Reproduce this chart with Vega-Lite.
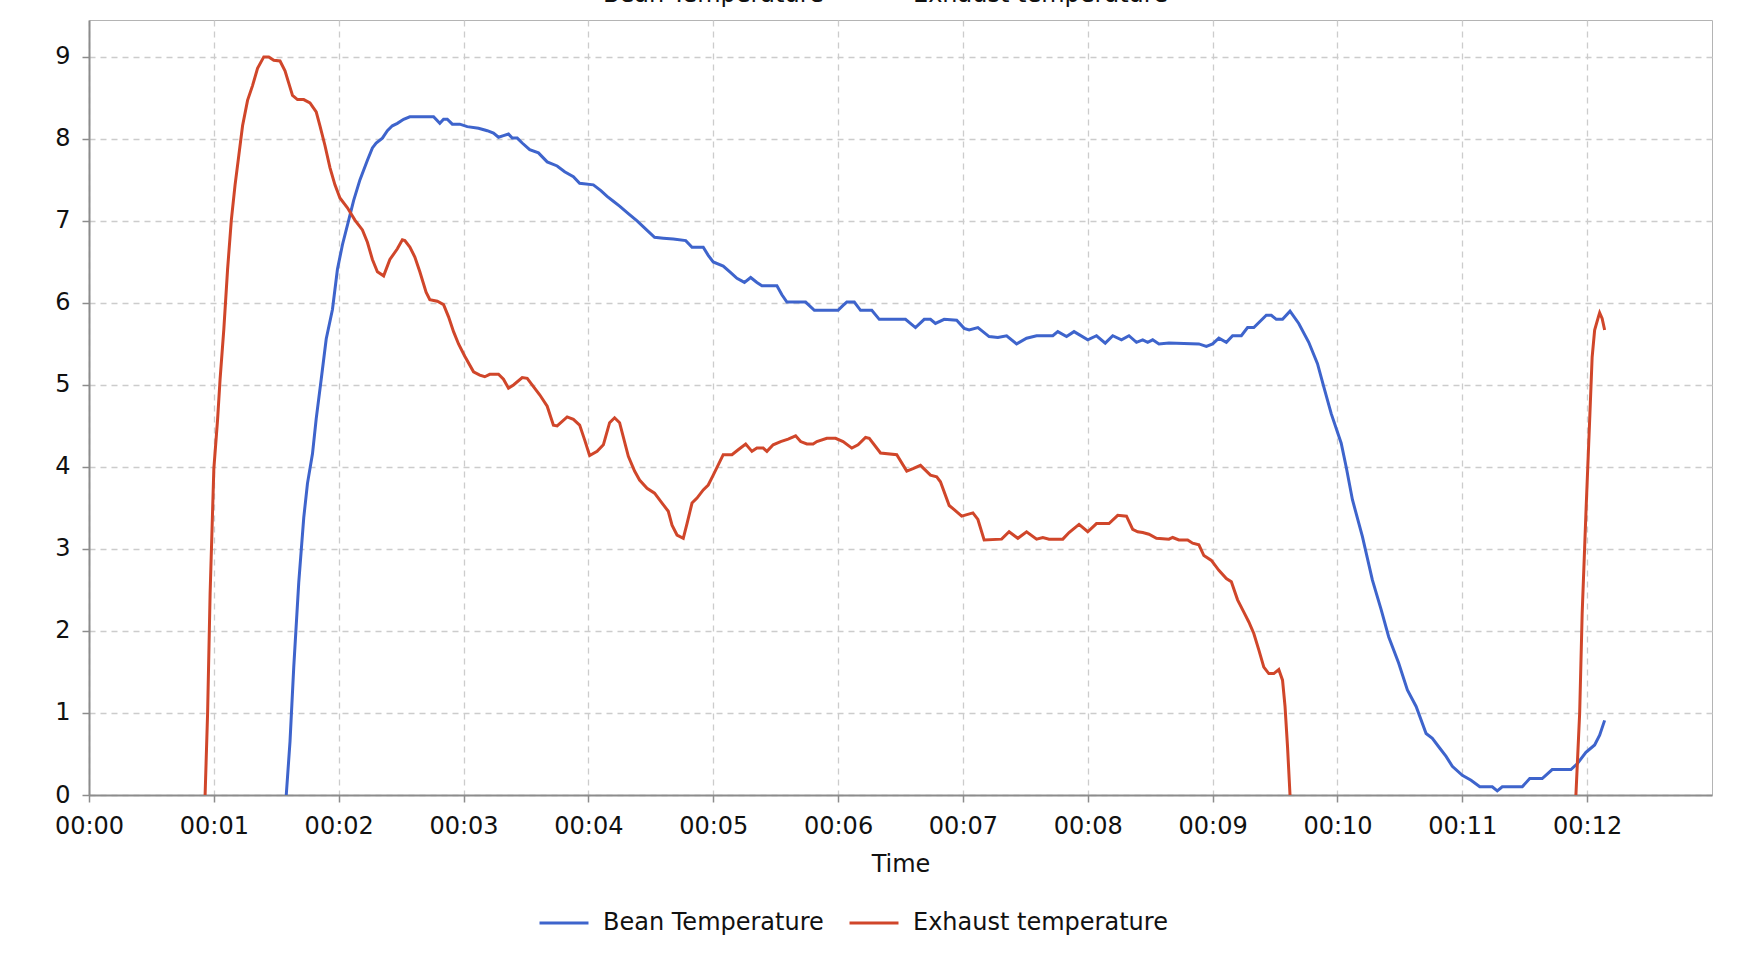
{
  "$schema": "https://vega.github.io/schema/vega-lite/v6.json",
  "width": 1623,
  "height": 775,
  "autosize": {"type": "none"},
  "padding": {"left": 89, "top": 20, "right": 44, "bottom": 165},
  "background": "white",
  "data": {
    "values": [
      {"t": 1.58, "v": 0, "s": "Bean Temperature", "seg": 1},
      {"t": 1.61, "v": 0.65, "s": "Bean Temperature", "seg": 1},
      {"t": 1.64, "v": 1.56, "s": "Bean Temperature", "seg": 1},
      {"t": 1.68, "v": 2.59, "s": "Bean Temperature", "seg": 1},
      {"t": 1.72, "v": 3.38, "s": "Bean Temperature", "seg": 1},
      {"t": 1.75, "v": 3.8, "s": "Bean Temperature", "seg": 1},
      {"t": 1.79, "v": 4.16, "s": "Bean Temperature", "seg": 1},
      {"t": 1.82, "v": 4.59, "s": "Bean Temperature", "seg": 1},
      {"t": 1.86, "v": 5.07, "s": "Bean Temperature", "seg": 1},
      {"t": 1.9, "v": 5.56, "s": "Bean Temperature", "seg": 1},
      {"t": 1.95, "v": 5.92, "s": "Bean Temperature", "seg": 1},
      {"t": 1.99, "v": 6.41, "s": "Bean Temperature", "seg": 1},
      {"t": 2.03, "v": 6.71, "s": "Bean Temperature", "seg": 1},
      {"t": 2.07, "v": 6.95, "s": "Bean Temperature", "seg": 1},
      {"t": 2.12, "v": 7.25, "s": "Bean Temperature", "seg": 1},
      {"t": 2.17, "v": 7.5, "s": "Bean Temperature", "seg": 1},
      {"t": 2.23, "v": 7.74, "s": "Bean Temperature", "seg": 1},
      {"t": 2.27, "v": 7.89, "s": "Bean Temperature", "seg": 1},
      {"t": 2.3, "v": 7.95, "s": "Bean Temperature", "seg": 1},
      {"t": 2.35, "v": 8.01, "s": "Bean Temperature", "seg": 1},
      {"t": 2.39, "v": 8.1, "s": "Bean Temperature", "seg": 1},
      {"t": 2.43, "v": 8.16, "s": "Bean Temperature", "seg": 1},
      {"t": 2.47, "v": 8.19, "s": "Bean Temperature", "seg": 1},
      {"t": 2.52, "v": 8.24, "s": "Bean Temperature", "seg": 1},
      {"t": 2.57, "v": 8.27, "s": "Bean Temperature", "seg": 1},
      {"t": 2.76, "v": 8.27, "s": "Bean Temperature", "seg": 1},
      {"t": 2.81, "v": 8.19, "s": "Bean Temperature", "seg": 1},
      {"t": 2.84, "v": 8.24, "s": "Bean Temperature", "seg": 1},
      {"t": 2.87, "v": 8.24, "s": "Bean Temperature", "seg": 1},
      {"t": 2.91, "v": 8.18, "s": "Bean Temperature", "seg": 1},
      {"t": 2.97, "v": 8.18, "s": "Bean Temperature", "seg": 1},
      {"t": 3.03, "v": 8.15, "s": "Bean Temperature", "seg": 1},
      {"t": 3.12, "v": 8.13, "s": "Bean Temperature", "seg": 1},
      {"t": 3.19, "v": 8.1, "s": "Bean Temperature", "seg": 1},
      {"t": 3.24, "v": 8.07, "s": "Bean Temperature", "seg": 1},
      {"t": 3.28, "v": 8.02, "s": "Bean Temperature", "seg": 1},
      {"t": 3.32, "v": 8.04, "s": "Bean Temperature", "seg": 1},
      {"t": 3.36, "v": 8.06, "s": "Bean Temperature", "seg": 1},
      {"t": 3.39, "v": 8.01, "s": "Bean Temperature", "seg": 1},
      {"t": 3.43, "v": 8.01, "s": "Bean Temperature", "seg": 1},
      {"t": 3.47, "v": 7.95, "s": "Bean Temperature", "seg": 1},
      {"t": 3.53, "v": 7.87, "s": "Bean Temperature", "seg": 1},
      {"t": 3.6, "v": 7.83, "s": "Bean Temperature", "seg": 1},
      {"t": 3.67, "v": 7.72, "s": "Bean Temperature", "seg": 1},
      {"t": 3.75, "v": 7.67, "s": "Bean Temperature", "seg": 1},
      {"t": 3.81, "v": 7.6, "s": "Bean Temperature", "seg": 1},
      {"t": 3.88, "v": 7.54, "s": "Bean Temperature", "seg": 1},
      {"t": 3.93, "v": 7.46, "s": "Bean Temperature", "seg": 1},
      {"t": 4.04, "v": 7.44, "s": "Bean Temperature", "seg": 1},
      {"t": 4.1, "v": 7.37, "s": "Bean Temperature", "seg": 1},
      {"t": 4.15, "v": 7.3, "s": "Bean Temperature", "seg": 1},
      {"t": 4.2, "v": 7.24, "s": "Bean Temperature", "seg": 1},
      {"t": 4.25, "v": 7.18, "s": "Bean Temperature", "seg": 1},
      {"t": 4.32, "v": 7.09, "s": "Bean Temperature", "seg": 1},
      {"t": 4.39, "v": 7.0, "s": "Bean Temperature", "seg": 1},
      {"t": 4.46, "v": 6.9, "s": "Bean Temperature", "seg": 1},
      {"t": 4.53, "v": 6.8, "s": "Bean Temperature", "seg": 1},
      {"t": 4.6, "v": 6.79, "s": "Bean Temperature", "seg": 1},
      {"t": 4.68, "v": 6.78, "s": "Bean Temperature", "seg": 1},
      {"t": 4.78, "v": 6.76, "s": "Bean Temperature", "seg": 1},
      {"t": 4.83, "v": 6.68, "s": "Bean Temperature", "seg": 1},
      {"t": 4.92, "v": 6.68, "s": "Bean Temperature", "seg": 1},
      {"t": 4.96, "v": 6.58, "s": "Bean Temperature", "seg": 1},
      {"t": 5.0, "v": 6.5, "s": "Bean Temperature", "seg": 1},
      {"t": 5.08, "v": 6.45, "s": "Bean Temperature", "seg": 1},
      {"t": 5.14, "v": 6.37, "s": "Bean Temperature", "seg": 1},
      {"t": 5.19, "v": 6.3, "s": "Bean Temperature", "seg": 1},
      {"t": 5.25, "v": 6.25, "s": "Bean Temperature", "seg": 1},
      {"t": 5.3, "v": 6.31, "s": "Bean Temperature", "seg": 1},
      {"t": 5.35, "v": 6.25, "s": "Bean Temperature", "seg": 1},
      {"t": 5.39, "v": 6.21, "s": "Bean Temperature", "seg": 1},
      {"t": 5.51, "v": 6.21, "s": "Bean Temperature", "seg": 1},
      {"t": 5.55, "v": 6.1, "s": "Bean Temperature", "seg": 1},
      {"t": 5.59, "v": 6.01, "s": "Bean Temperature", "seg": 1},
      {"t": 5.74, "v": 6.01, "s": "Bean Temperature", "seg": 1},
      {"t": 5.81, "v": 5.91, "s": "Bean Temperature", "seg": 1},
      {"t": 6.0, "v": 5.91, "s": "Bean Temperature", "seg": 1},
      {"t": 6.04, "v": 5.97, "s": "Bean Temperature", "seg": 1},
      {"t": 6.07, "v": 6.01, "s": "Bean Temperature", "seg": 1},
      {"t": 6.13, "v": 6.01, "s": "Bean Temperature", "seg": 1},
      {"t": 6.18, "v": 5.91, "s": "Bean Temperature", "seg": 1},
      {"t": 6.27, "v": 5.91, "s": "Bean Temperature", "seg": 1},
      {"t": 6.33, "v": 5.8, "s": "Bean Temperature", "seg": 1},
      {"t": 6.54, "v": 5.8, "s": "Bean Temperature", "seg": 1},
      {"t": 6.62, "v": 5.7, "s": "Bean Temperature", "seg": 1},
      {"t": 6.69, "v": 5.8, "s": "Bean Temperature", "seg": 1},
      {"t": 6.74, "v": 5.8, "s": "Bean Temperature", "seg": 1},
      {"t": 6.78, "v": 5.75, "s": "Bean Temperature", "seg": 1},
      {"t": 6.85, "v": 5.8, "s": "Bean Temperature", "seg": 1},
      {"t": 6.95, "v": 5.79, "s": "Bean Temperature", "seg": 1},
      {"t": 7.01, "v": 5.69, "s": "Bean Temperature", "seg": 1},
      {"t": 7.05, "v": 5.67, "s": "Bean Temperature", "seg": 1},
      {"t": 7.12, "v": 5.7, "s": "Bean Temperature", "seg": 1},
      {"t": 7.21, "v": 5.59, "s": "Bean Temperature", "seg": 1},
      {"t": 7.28, "v": 5.58, "s": "Bean Temperature", "seg": 1},
      {"t": 7.35, "v": 5.6, "s": "Bean Temperature", "seg": 1},
      {"t": 7.43, "v": 5.5, "s": "Bean Temperature", "seg": 1},
      {"t": 7.51, "v": 5.57, "s": "Bean Temperature", "seg": 1},
      {"t": 7.59, "v": 5.6, "s": "Bean Temperature", "seg": 1},
      {"t": 7.72, "v": 5.6, "s": "Bean Temperature", "seg": 1},
      {"t": 7.76, "v": 5.65, "s": "Bean Temperature", "seg": 1},
      {"t": 7.83, "v": 5.59, "s": "Bean Temperature", "seg": 1},
      {"t": 7.89, "v": 5.65, "s": "Bean Temperature", "seg": 1},
      {"t": 8.0, "v": 5.55, "s": "Bean Temperature", "seg": 1},
      {"t": 8.07, "v": 5.6, "s": "Bean Temperature", "seg": 1},
      {"t": 8.14, "v": 5.51, "s": "Bean Temperature", "seg": 1},
      {"t": 8.2, "v": 5.6, "s": "Bean Temperature", "seg": 1},
      {"t": 8.27, "v": 5.55, "s": "Bean Temperature", "seg": 1},
      {"t": 8.33, "v": 5.6, "s": "Bean Temperature", "seg": 1},
      {"t": 8.39, "v": 5.52, "s": "Bean Temperature", "seg": 1},
      {"t": 8.44, "v": 5.55, "s": "Bean Temperature", "seg": 1},
      {"t": 8.48, "v": 5.52, "s": "Bean Temperature", "seg": 1},
      {"t": 8.52, "v": 5.55, "s": "Bean Temperature", "seg": 1},
      {"t": 8.57, "v": 5.5, "s": "Bean Temperature", "seg": 1},
      {"t": 8.65, "v": 5.51, "s": "Bean Temperature", "seg": 1},
      {"t": 8.89, "v": 5.5, "s": "Bean Temperature", "seg": 1},
      {"t": 8.95, "v": 5.47, "s": "Bean Temperature", "seg": 1},
      {"t": 9.0, "v": 5.5, "s": "Bean Temperature", "seg": 1},
      {"t": 9.05, "v": 5.57, "s": "Bean Temperature", "seg": 1},
      {"t": 9.11, "v": 5.52, "s": "Bean Temperature", "seg": 1},
      {"t": 9.16, "v": 5.6, "s": "Bean Temperature", "seg": 1},
      {"t": 9.23, "v": 5.6, "s": "Bean Temperature", "seg": 1},
      {"t": 9.28, "v": 5.7, "s": "Bean Temperature", "seg": 1},
      {"t": 9.33, "v": 5.7, "s": "Bean Temperature", "seg": 1},
      {"t": 9.43, "v": 5.85, "s": "Bean Temperature", "seg": 1},
      {"t": 9.47, "v": 5.85, "s": "Bean Temperature", "seg": 1},
      {"t": 9.51, "v": 5.8, "s": "Bean Temperature", "seg": 1},
      {"t": 9.56, "v": 5.8, "s": "Bean Temperature", "seg": 1},
      {"t": 9.62, "v": 5.9, "s": "Bean Temperature", "seg": 1},
      {"t": 9.69, "v": 5.75, "s": "Bean Temperature", "seg": 1},
      {"t": 9.77, "v": 5.52, "s": "Bean Temperature", "seg": 1},
      {"t": 9.84, "v": 5.26, "s": "Bean Temperature", "seg": 1},
      {"t": 9.89, "v": 4.98, "s": "Bean Temperature", "seg": 1},
      {"t": 9.95, "v": 4.65, "s": "Bean Temperature", "seg": 1},
      {"t": 10.03, "v": 4.29, "s": "Bean Temperature", "seg": 1},
      {"t": 10.07, "v": 4.0, "s": "Bean Temperature", "seg": 1},
      {"t": 10.12, "v": 3.6, "s": "Bean Temperature", "seg": 1},
      {"t": 10.2, "v": 3.15, "s": "Bean Temperature", "seg": 1},
      {"t": 10.28, "v": 2.62, "s": "Bean Temperature", "seg": 1},
      {"t": 10.35, "v": 2.26, "s": "Bean Temperature", "seg": 1},
      {"t": 10.41, "v": 1.93, "s": "Bean Temperature", "seg": 1},
      {"t": 10.49, "v": 1.61, "s": "Bean Temperature", "seg": 1},
      {"t": 10.56, "v": 1.28, "s": "Bean Temperature", "seg": 1},
      {"t": 10.63, "v": 1.08, "s": "Bean Temperature", "seg": 1},
      {"t": 10.71, "v": 0.75, "s": "Bean Temperature", "seg": 1},
      {"t": 10.76, "v": 0.69, "s": "Bean Temperature", "seg": 1},
      {"t": 10.82, "v": 0.57, "s": "Bean Temperature", "seg": 1},
      {"t": 10.87, "v": 0.47, "s": "Bean Temperature", "seg": 1},
      {"t": 10.92, "v": 0.35, "s": "Bean Temperature", "seg": 1},
      {"t": 11.0, "v": 0.24, "s": "Bean Temperature", "seg": 1},
      {"t": 11.07, "v": 0.18, "s": "Bean Temperature", "seg": 1},
      {"t": 11.14, "v": 0.1, "s": "Bean Temperature", "seg": 1},
      {"t": 11.24, "v": 0.1, "s": "Bean Temperature", "seg": 1},
      {"t": 11.28, "v": 0.05, "s": "Bean Temperature", "seg": 1},
      {"t": 11.32, "v": 0.1, "s": "Bean Temperature", "seg": 1},
      {"t": 11.48, "v": 0.1, "s": "Bean Temperature", "seg": 1},
      {"t": 11.54, "v": 0.2, "s": "Bean Temperature", "seg": 1},
      {"t": 11.64, "v": 0.2, "s": "Bean Temperature", "seg": 1},
      {"t": 11.72, "v": 0.31, "s": "Bean Temperature", "seg": 1},
      {"t": 11.87, "v": 0.31, "s": "Bean Temperature", "seg": 1},
      {"t": 11.92, "v": 0.38, "s": "Bean Temperature", "seg": 1},
      {"t": 11.99, "v": 0.52, "s": "Bean Temperature", "seg": 1},
      {"t": 12.06, "v": 0.61, "s": "Bean Temperature", "seg": 1},
      {"t": 12.1, "v": 0.73, "s": "Bean Temperature", "seg": 1},
      {"t": 12.14, "v": 0.91, "s": "Bean Temperature", "seg": 1},
      {"t": 0.93, "v": 0, "s": "Exhaust temperature", "seg": 1},
      {"t": 0.95, "v": 1.0, "s": "Exhaust temperature", "seg": 1},
      {"t": 0.97, "v": 2.45, "s": "Exhaust temperature", "seg": 1},
      {"t": 1.0, "v": 3.98, "s": "Exhaust temperature", "seg": 1},
      {"t": 1.03, "v": 4.58, "s": "Exhaust temperature", "seg": 1},
      {"t": 1.05, "v": 5.07, "s": "Exhaust temperature", "seg": 1},
      {"t": 1.08, "v": 5.68, "s": "Exhaust temperature", "seg": 1},
      {"t": 1.11, "v": 6.41, "s": "Exhaust temperature", "seg": 1},
      {"t": 1.14, "v": 7.01, "s": "Exhaust temperature", "seg": 1},
      {"t": 1.17, "v": 7.44, "s": "Exhaust temperature", "seg": 1},
      {"t": 1.2, "v": 7.8, "s": "Exhaust temperature", "seg": 1},
      {"t": 1.23, "v": 8.16, "s": "Exhaust temperature", "seg": 1},
      {"t": 1.27, "v": 8.47, "s": "Exhaust temperature", "seg": 1},
      {"t": 1.31, "v": 8.65, "s": "Exhaust temperature", "seg": 1},
      {"t": 1.35, "v": 8.86, "s": "Exhaust temperature", "seg": 1},
      {"t": 1.4, "v": 9.0, "s": "Exhaust temperature", "seg": 1},
      {"t": 1.44, "v": 9.0, "s": "Exhaust temperature", "seg": 1},
      {"t": 1.48, "v": 8.96, "s": "Exhaust temperature", "seg": 1},
      {"t": 1.53, "v": 8.95, "s": "Exhaust temperature", "seg": 1},
      {"t": 1.57, "v": 8.83, "s": "Exhaust temperature", "seg": 1},
      {"t": 1.6, "v": 8.68, "s": "Exhaust temperature", "seg": 1},
      {"t": 1.63, "v": 8.53, "s": "Exhaust temperature", "seg": 1},
      {"t": 1.67, "v": 8.48, "s": "Exhaust temperature", "seg": 1},
      {"t": 1.72, "v": 8.48, "s": "Exhaust temperature", "seg": 1},
      {"t": 1.77, "v": 8.44, "s": "Exhaust temperature", "seg": 1},
      {"t": 1.82, "v": 8.33, "s": "Exhaust temperature", "seg": 1},
      {"t": 1.85, "v": 8.16, "s": "Exhaust temperature", "seg": 1},
      {"t": 1.89, "v": 7.92, "s": "Exhaust temperature", "seg": 1},
      {"t": 1.93, "v": 7.65, "s": "Exhaust temperature", "seg": 1},
      {"t": 1.97, "v": 7.44, "s": "Exhaust temperature", "seg": 1},
      {"t": 2.01, "v": 7.28, "s": "Exhaust temperature", "seg": 1},
      {"t": 2.07, "v": 7.16, "s": "Exhaust temperature", "seg": 1},
      {"t": 2.13, "v": 7.01, "s": "Exhaust temperature", "seg": 1},
      {"t": 2.19, "v": 6.89, "s": "Exhaust temperature", "seg": 1},
      {"t": 2.23, "v": 6.74, "s": "Exhaust temperature", "seg": 1},
      {"t": 2.27, "v": 6.53, "s": "Exhaust temperature", "seg": 1},
      {"t": 2.31, "v": 6.38, "s": "Exhaust temperature", "seg": 1},
      {"t": 2.36, "v": 6.33, "s": "Exhaust temperature", "seg": 1},
      {"t": 2.41, "v": 6.53, "s": "Exhaust temperature", "seg": 1},
      {"t": 2.47, "v": 6.66, "s": "Exhaust temperature", "seg": 1},
      {"t": 2.51, "v": 6.77, "s": "Exhaust temperature", "seg": 1},
      {"t": 2.53, "v": 6.76, "s": "Exhaust temperature", "seg": 1},
      {"t": 2.57, "v": 6.68, "s": "Exhaust temperature", "seg": 1},
      {"t": 2.61, "v": 6.56, "s": "Exhaust temperature", "seg": 1},
      {"t": 2.65, "v": 6.38, "s": "Exhaust temperature", "seg": 1},
      {"t": 2.7, "v": 6.13, "s": "Exhaust temperature", "seg": 1},
      {"t": 2.73, "v": 6.04, "s": "Exhaust temperature", "seg": 1},
      {"t": 2.79, "v": 6.02, "s": "Exhaust temperature", "seg": 1},
      {"t": 2.84, "v": 5.98, "s": "Exhaust temperature", "seg": 1},
      {"t": 2.88, "v": 5.83, "s": "Exhaust temperature", "seg": 1},
      {"t": 2.92, "v": 5.65, "s": "Exhaust temperature", "seg": 1},
      {"t": 2.96, "v": 5.5, "s": "Exhaust temperature", "seg": 1},
      {"t": 3.01, "v": 5.35, "s": "Exhaust temperature", "seg": 1},
      {"t": 3.08, "v": 5.16, "s": "Exhaust temperature", "seg": 1},
      {"t": 3.13, "v": 5.12, "s": "Exhaust temperature", "seg": 1},
      {"t": 3.17, "v": 5.1, "s": "Exhaust temperature", "seg": 1},
      {"t": 3.21, "v": 5.13, "s": "Exhaust temperature", "seg": 1},
      {"t": 3.28, "v": 5.13, "s": "Exhaust temperature", "seg": 1},
      {"t": 3.32, "v": 5.07, "s": "Exhaust temperature", "seg": 1},
      {"t": 3.36, "v": 4.96, "s": "Exhaust temperature", "seg": 1},
      {"t": 3.4, "v": 5.0, "s": "Exhaust temperature", "seg": 1},
      {"t": 3.47, "v": 5.09, "s": "Exhaust temperature", "seg": 1},
      {"t": 3.51, "v": 5.08, "s": "Exhaust temperature", "seg": 1},
      {"t": 3.56, "v": 4.98, "s": "Exhaust temperature", "seg": 1},
      {"t": 3.61, "v": 4.88, "s": "Exhaust temperature", "seg": 1},
      {"t": 3.67, "v": 4.74, "s": "Exhaust temperature", "seg": 1},
      {"t": 3.72, "v": 4.51, "s": "Exhaust temperature", "seg": 1},
      {"t": 3.75, "v": 4.5, "s": "Exhaust temperature", "seg": 1},
      {"t": 3.83, "v": 4.61, "s": "Exhaust temperature", "seg": 1},
      {"t": 3.88, "v": 4.58, "s": "Exhaust temperature", "seg": 1},
      {"t": 3.93, "v": 4.51, "s": "Exhaust temperature", "seg": 1},
      {"t": 3.97, "v": 4.33, "s": "Exhaust temperature", "seg": 1},
      {"t": 4.01, "v": 4.14, "s": "Exhaust temperature", "seg": 1},
      {"t": 4.07, "v": 4.19, "s": "Exhaust temperature", "seg": 1},
      {"t": 4.12, "v": 4.27, "s": "Exhaust temperature", "seg": 1},
      {"t": 4.17, "v": 4.54, "s": "Exhaust temperature", "seg": 1},
      {"t": 4.21, "v": 4.6, "s": "Exhaust temperature", "seg": 1},
      {"t": 4.25, "v": 4.54, "s": "Exhaust temperature", "seg": 1},
      {"t": 4.32, "v": 4.13, "s": "Exhaust temperature", "seg": 1},
      {"t": 4.37, "v": 3.95, "s": "Exhaust temperature", "seg": 1},
      {"t": 4.41, "v": 3.84, "s": "Exhaust temperature", "seg": 1},
      {"t": 4.47, "v": 3.74, "s": "Exhaust temperature", "seg": 1},
      {"t": 4.53, "v": 3.68, "s": "Exhaust temperature", "seg": 1},
      {"t": 4.59, "v": 3.56, "s": "Exhaust temperature", "seg": 1},
      {"t": 4.64, "v": 3.46, "s": "Exhaust temperature", "seg": 1},
      {"t": 4.67, "v": 3.29, "s": "Exhaust temperature", "seg": 1},
      {"t": 4.71, "v": 3.17, "s": "Exhaust temperature", "seg": 1},
      {"t": 4.76, "v": 3.13, "s": "Exhaust temperature", "seg": 1},
      {"t": 4.79, "v": 3.31, "s": "Exhaust temperature", "seg": 1},
      {"t": 4.83, "v": 3.56, "s": "Exhaust temperature", "seg": 1},
      {"t": 4.87, "v": 3.62, "s": "Exhaust temperature", "seg": 1},
      {"t": 4.92, "v": 3.72, "s": "Exhaust temperature", "seg": 1},
      {"t": 4.96, "v": 3.78, "s": "Exhaust temperature", "seg": 1},
      {"t": 5.0, "v": 3.9, "s": "Exhaust temperature", "seg": 1},
      {"t": 5.08, "v": 4.15, "s": "Exhaust temperature", "seg": 1},
      {"t": 5.15, "v": 4.15, "s": "Exhaust temperature", "seg": 1},
      {"t": 5.2, "v": 4.21, "s": "Exhaust temperature", "seg": 1},
      {"t": 5.26, "v": 4.28, "s": "Exhaust temperature", "seg": 1},
      {"t": 5.31, "v": 4.19, "s": "Exhaust temperature", "seg": 1},
      {"t": 5.35, "v": 4.23, "s": "Exhaust temperature", "seg": 1},
      {"t": 5.4, "v": 4.23, "s": "Exhaust temperature", "seg": 1},
      {"t": 5.43, "v": 4.19, "s": "Exhaust temperature", "seg": 1},
      {"t": 5.48, "v": 4.27, "s": "Exhaust temperature", "seg": 1},
      {"t": 5.54, "v": 4.31, "s": "Exhaust temperature", "seg": 1},
      {"t": 5.6, "v": 4.34, "s": "Exhaust temperature", "seg": 1},
      {"t": 5.66, "v": 4.38, "s": "Exhaust temperature", "seg": 1},
      {"t": 5.7, "v": 4.31, "s": "Exhaust temperature", "seg": 1},
      {"t": 5.75, "v": 4.28, "s": "Exhaust temperature", "seg": 1},
      {"t": 5.8, "v": 4.28, "s": "Exhaust temperature", "seg": 1},
      {"t": 5.83, "v": 4.31, "s": "Exhaust temperature", "seg": 1},
      {"t": 5.91, "v": 4.35, "s": "Exhaust temperature", "seg": 1},
      {"t": 5.98, "v": 4.35, "s": "Exhaust temperature", "seg": 1},
      {"t": 6.04, "v": 4.31, "s": "Exhaust temperature", "seg": 1},
      {"t": 6.11, "v": 4.23, "s": "Exhaust temperature", "seg": 1},
      {"t": 6.16, "v": 4.27, "s": "Exhaust temperature", "seg": 1},
      {"t": 6.22, "v": 4.36, "s": "Exhaust temperature", "seg": 1},
      {"t": 6.25, "v": 4.35, "s": "Exhaust temperature", "seg": 1},
      {"t": 6.34, "v": 4.17, "s": "Exhaust temperature", "seg": 1},
      {"t": 6.47, "v": 4.15, "s": "Exhaust temperature", "seg": 1},
      {"t": 6.55, "v": 3.95, "s": "Exhaust temperature", "seg": 1},
      {"t": 6.6, "v": 3.98, "s": "Exhaust temperature", "seg": 1},
      {"t": 6.66, "v": 4.02, "s": "Exhaust temperature", "seg": 1},
      {"t": 6.74, "v": 3.9, "s": "Exhaust temperature", "seg": 1},
      {"t": 6.79, "v": 3.88, "s": "Exhaust temperature", "seg": 1},
      {"t": 6.82, "v": 3.82, "s": "Exhaust temperature", "seg": 1},
      {"t": 6.89, "v": 3.53, "s": "Exhaust temperature", "seg": 1},
      {"t": 6.93, "v": 3.48, "s": "Exhaust temperature", "seg": 1},
      {"t": 6.99, "v": 3.4, "s": "Exhaust temperature", "seg": 1},
      {"t": 7.08, "v": 3.44, "s": "Exhaust temperature", "seg": 1},
      {"t": 7.12, "v": 3.36, "s": "Exhaust temperature", "seg": 1},
      {"t": 7.17, "v": 3.11, "s": "Exhaust temperature", "seg": 1},
      {"t": 7.31, "v": 3.12, "s": "Exhaust temperature", "seg": 1},
      {"t": 7.37, "v": 3.21, "s": "Exhaust temperature", "seg": 1},
      {"t": 7.44, "v": 3.13, "s": "Exhaust temperature", "seg": 1},
      {"t": 7.51, "v": 3.21, "s": "Exhaust temperature", "seg": 1},
      {"t": 7.59, "v": 3.12, "s": "Exhaust temperature", "seg": 1},
      {"t": 7.64, "v": 3.14, "s": "Exhaust temperature", "seg": 1},
      {"t": 7.69, "v": 3.12, "s": "Exhaust temperature", "seg": 1},
      {"t": 7.8, "v": 3.12, "s": "Exhaust temperature", "seg": 1},
      {"t": 7.85, "v": 3.2, "s": "Exhaust temperature", "seg": 1},
      {"t": 7.93, "v": 3.3, "s": "Exhaust temperature", "seg": 1},
      {"t": 8.0, "v": 3.21, "s": "Exhaust temperature", "seg": 1},
      {"t": 8.07, "v": 3.31, "s": "Exhaust temperature", "seg": 1},
      {"t": 8.17, "v": 3.31, "s": "Exhaust temperature", "seg": 1},
      {"t": 8.24, "v": 3.41, "s": "Exhaust temperature", "seg": 1},
      {"t": 8.31, "v": 3.4, "s": "Exhaust temperature", "seg": 1},
      {"t": 8.36, "v": 3.24, "s": "Exhaust temperature", "seg": 1},
      {"t": 8.4, "v": 3.21, "s": "Exhaust temperature", "seg": 1},
      {"t": 8.44, "v": 3.2, "s": "Exhaust temperature", "seg": 1},
      {"t": 8.49, "v": 3.18, "s": "Exhaust temperature", "seg": 1},
      {"t": 8.55, "v": 3.13, "s": "Exhaust temperature", "seg": 1},
      {"t": 8.65, "v": 3.12, "s": "Exhaust temperature", "seg": 1},
      {"t": 8.68, "v": 3.14, "s": "Exhaust temperature", "seg": 1},
      {"t": 8.73, "v": 3.11, "s": "Exhaust temperature", "seg": 1},
      {"t": 8.8, "v": 3.11, "s": "Exhaust temperature", "seg": 1},
      {"t": 8.84, "v": 3.07, "s": "Exhaust temperature", "seg": 1},
      {"t": 8.89, "v": 3.05, "s": "Exhaust temperature", "seg": 1},
      {"t": 8.93, "v": 2.92, "s": "Exhaust temperature", "seg": 1},
      {"t": 8.99, "v": 2.86, "s": "Exhaust temperature", "seg": 1},
      {"t": 9.05, "v": 2.74, "s": "Exhaust temperature", "seg": 1},
      {"t": 9.11, "v": 2.64, "s": "Exhaust temperature", "seg": 1},
      {"t": 9.15, "v": 2.6, "s": "Exhaust temperature", "seg": 1},
      {"t": 9.2, "v": 2.38, "s": "Exhaust temperature", "seg": 1},
      {"t": 9.25, "v": 2.23, "s": "Exhaust temperature", "seg": 1},
      {"t": 9.29, "v": 2.11, "s": "Exhaust temperature", "seg": 1},
      {"t": 9.33, "v": 1.97, "s": "Exhaust temperature", "seg": 1},
      {"t": 9.37, "v": 1.77, "s": "Exhaust temperature", "seg": 1},
      {"t": 9.41, "v": 1.56, "s": "Exhaust temperature", "seg": 1},
      {"t": 9.45, "v": 1.48, "s": "Exhaust temperature", "seg": 1},
      {"t": 9.49, "v": 1.48, "s": "Exhaust temperature", "seg": 1},
      {"t": 9.53, "v": 1.53, "s": "Exhaust temperature", "seg": 1},
      {"t": 9.56, "v": 1.4, "s": "Exhaust temperature", "seg": 1},
      {"t": 9.58, "v": 1.08, "s": "Exhaust temperature", "seg": 1},
      {"t": 9.6, "v": 0.59, "s": "Exhaust temperature", "seg": 1},
      {"t": 9.62, "v": 0, "s": "Exhaust temperature", "seg": 1},
      {"t": 11.91, "v": 0, "s": "Exhaust temperature", "seg": 2},
      {"t": 11.94, "v": 1.0, "s": "Exhaust temperature", "seg": 2},
      {"t": 11.96, "v": 2.21, "s": "Exhaust temperature", "seg": 2},
      {"t": 11.99, "v": 3.43, "s": "Exhaust temperature", "seg": 2},
      {"t": 12.02, "v": 4.57, "s": "Exhaust temperature", "seg": 2},
      {"t": 12.04, "v": 5.34, "s": "Exhaust temperature", "seg": 2},
      {"t": 12.06, "v": 5.67, "s": "Exhaust temperature", "seg": 2},
      {"t": 12.09, "v": 5.83, "s": "Exhaust temperature", "seg": 2},
      {"t": 12.1, "v": 5.88, "s": "Exhaust temperature", "seg": 2},
      {"t": 12.12, "v": 5.81, "s": "Exhaust temperature", "seg": 2},
      {"t": 12.14, "v": 5.67, "s": "Exhaust temperature", "seg": 2}
    ]
  },
  "encoding": {
    "x": {
      "field": "t",
      "type": "quantitative",
      "title": "Time",
      "scale": {"domain": [0, 13], "nice": false, "zero": false},
      "axis": {
        "values": [0, 1, 2, 3, 4, 5, 6, 7, 8, 9, 10, 11, 12],
        "labelExpr": "'00:' + (datum.value < 10 ? '0' : '') + datum.value",
        "labelFlush": false,
        "labelOverlap": false
      }
    },
    "y": {
      "field": "v",
      "type": "quantitative",
      "title": null,
      "scale": {"domain": [0, 9.45], "nice": false},
      "axis": {
        "values": [0, 1, 2, 3, 4, 5, 6, 7, 8, 9],
        "format": "d",
        "labelFlush": false
      }
    },
    "detail": {"field": "seg", "type": "nominal"}
  },
  "layer": [
    {
      "transform": [{"filter": "datum.s == 'Bean Temperature'"}],
      "mark": {"type": "line", "strokeWidth": 3, "interpolate": "linear"},
      "encoding": {
        "color": {
          "field": "s",
          "type": "nominal",
          "scale": {
            "domain": ["Bean Temperature", "Exhaust temperature"],
            "range": ["#3e64cc", "#d0462a"]
          },
          "legend": {
            "orient": "none",
            "legendX": 449,
            "legendY": 877,
            "direction": "horizontal",
            "title": null
          }
        }
      }
    },
    {
      "transform": [{"filter": "datum.s == 'Exhaust temperature'"}],
      "mark": {"type": "line", "strokeWidth": 3, "interpolate": "linear"},
      "encoding": {
        "color": {
          "field": "s",
          "type": "nominal",
          "legend": {
            "orient": "none",
            "legendX": 449,
            "legendY": -51,
            "direction": "horizontal",
            "title": null
          }
        }
      }
    }
  ],
  "resolve": {"legend": {"color": "independent"}},
  "config": {
    "font": "DejaVu Sans",
    "view": {"stroke": "#b4b4b4", "strokeWidth": 1},
    "axis": {
      "domainColor": "#8c8c8c",
      "domainWidth": 2,
      "tickColor": "#8c8c8c",
      "tickWidth": 1.5,
      "tickSize": 7,
      "labelFont": "DejaVu Sans",
      "labelFontSize": 24,
      "labelColor": "#111111",
      "labelPadding": 12,
      "titleFont": "DejaVu Sans",
      "titleFontSize": 24,
      "titleFontWeight": "normal",
      "titleColor": "#111111",
      "titlePadding": 14,
      "grid": true,
      "gridColor": "#cccccc",
      "gridDash": [6, 5],
      "gridWidth": 1.3
    },
    "legend": {
      "symbolType": "stroke",
      "symbolSize": 2400,
      "symbolStrokeWidth": 3,
      "labelFont": "DejaVu Sans",
      "labelFontSize": 24,
      "labelColor": "#111111",
      "labelLimit": 0,
      "labelOffset": 13,
      "columnPadding": 19,
      "padding": 0
    }
  }
}
